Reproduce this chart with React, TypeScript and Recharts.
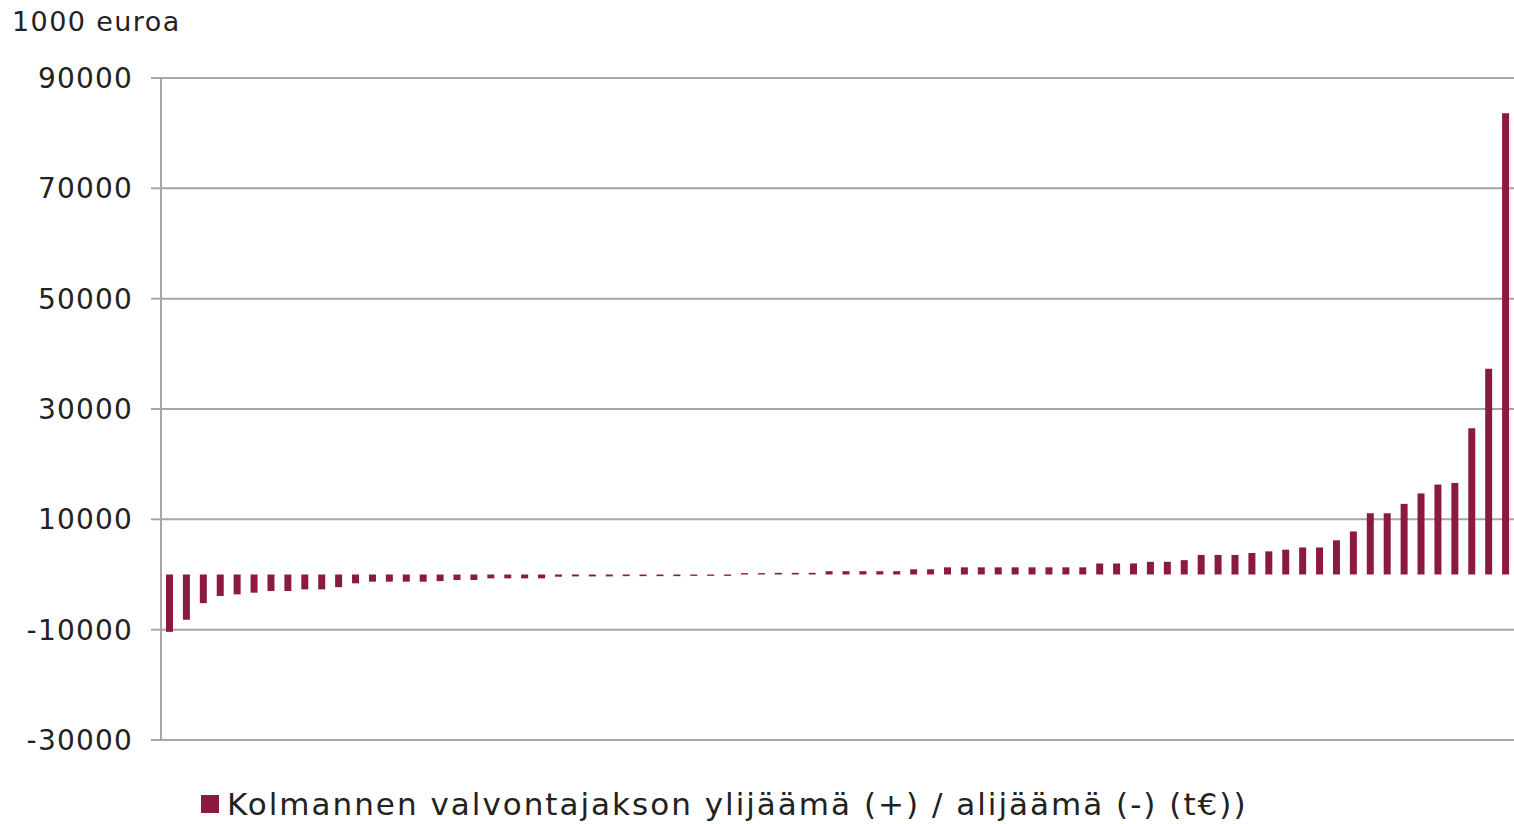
import { BarChart, Bar, XAxis, YAxis, CartesianGrid } from "recharts";

// sorted surplus (+) / deficit (-) per unit, 1000 euros
const surplus = [
  -10400, -8200, -5200, -3900, -3600, -3300, -3000, -3000, -2700, -2700,
  -2300, -1600, -1300, -1300, -1300, -1300, -1200, -1000, -1000, -700,
  -700, -700, -700, -400, -350, -350, -350, -300, -300, -300,
  -300, -250, -250, -250, 250, 250, 300, 300, 300, 600,
  600, 600, 600, 600, 950, 950, 1300, 1300, 1300, 1300,
  1300, 1300, 1300, 1300, 1300, 2000, 2000, 2000, 2300, 2300,
  2600, 3550, 3550, 3550, 3900, 4200, 4500, 4900, 4900, 6200,
  7800, 11100, 11100, 12800, 14700, 16300, 16600, 26500, 37300, 83600,
];

const yTicks = [-30000, -10000, 10000, 30000, 50000, 70000, 90000];

const unitLabel = "1000 euroa";
const seriesName = "Kolmannen valvontajakson ylijäämä (+) / alijäämä (-) (t€))";

const BAR_COLOR = "#8B1A43";
const GRID = "#a6a6a6";
const FONT = "'DejaVu Sans', Verdana, sans-serif";

const data = surplus.map((v, i) => ({ name: String(i + 1), value: v }));

const App = () => {
  return (
    <div style={{ position: "relative", width: 1514, height: 824, fontFamily: FONT }}>
      <style>{`body{margin:0}`}</style>
      <div
        style={{
          position: "absolute",
          left: 12,
          top: 5,
          fontSize: 27,
          letterSpacing: 1.4,
          lineHeight: "34px",
          color: "#222",
        }}
      >
        {unitLabel}
      </div>
      <BarChart
        width={1514}
        height={824}
        data={data}
        margin={{ top: 78, right: 0, left: 0, bottom: 84 }}
        barCategoryGap={0}
      >
        <CartesianGrid vertical={false} stroke={GRID} strokeWidth={2} />
        <XAxis dataKey="name" hide />
        <YAxis
          domain={[-30000, 90000]}
          ticks={yTicks}
          interval={0}
          width={161}
          axisLine={{ stroke: GRID, strokeWidth: 2 }}
          tickLine={{ stroke: GRID, strokeWidth: 2 }}
          tickSize={10}
          tickMargin={18}
          tick={{ fill: "#222", fontSize: 28, fontFamily: FONT, letterSpacing: 1.2 }}
        />
        <Bar dataKey="value" fill={BAR_COLOR} barSize={7} isAnimationActive={false} />
      </BarChart>
      <div
        style={{
          position: "absolute",
          left: 201,
          top: 783,
          display: "flex",
          alignItems: "center",
          fontSize: 31,
          letterSpacing: 2,
          lineHeight: "42px",
          color: "#222",
          whiteSpace: "nowrap",
        }}
      >
        <span style={{ display: "inline-block", width: 18, height: 18, background: BAR_COLOR, marginRight: 8 }} />
        {seriesName}
      </div>
    </div>
  );
};

export default App;
